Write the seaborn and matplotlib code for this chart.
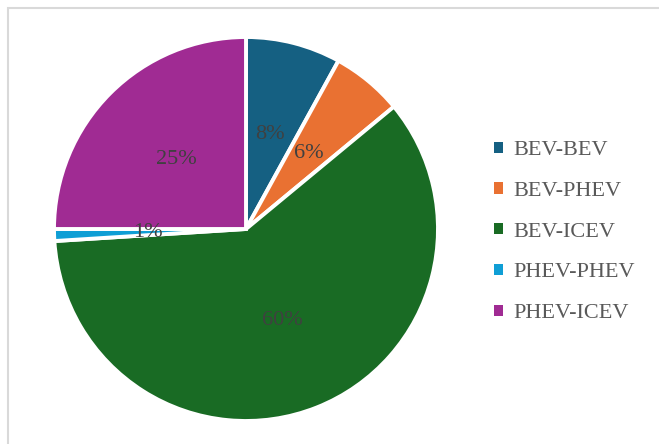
import matplotlib
matplotlib.use("Agg")
import matplotlib.pyplot as plt
from matplotlib.patches import Rectangle
import seaborn as sns

categories = ["BEV-BEV", "BEV-PHEV", "BEV-ICEV", "PHEV-PHEV", "PHEV-ICEV"]
shares = [8, 6, 60, 1, 25]
colors = ["#156082", "#E97132", "#196B24", "#0F9ED5", "#A02B93"]

sns.set_theme(style="white")
plt.rcParams["font.family"] = ["Liberation Serif", "DejaVu Serif"]

W, H = 659, 444
fig = plt.figure(figsize=(W / 100, H / 100), dpi=100)

# chart-area frame (runs past the right and bottom edges)
fig.patches.append(Rectangle((8 / W, -10 / H), (W + 20) / W, (H - 8 + 10) / H,
                             transform=fig.transFigure, fill=False,
                             edgecolor="#d9d9d9", linewidth=1.5))

cx, cy, r = 246, 229, 192
ax = fig.add_axes([(cx - r) / W, (H - cy - r) / H, 2 * r / W, 2 * r / H])
palette = sns.color_palette(colors)
wedges, _, autotexts = ax.pie(
    shares, colors=palette, startangle=90, counterclock=False,
    autopct=lambda p: f"{p:.0f}%", pctdistance=0.51,
    wedgeprops=dict(edgecolor="white", linewidth=2.8),
    textprops=dict(color="#404040", fontsize=16),
)
ax.set_xlim(-1, 1)
ax.set_ylim(-1, 1)
ax.set_aspect("equal")
ax.axis("off")

leg = fig.legend(wedges, categories, loc="upper left",
                 bbox_to_anchor=(483 / W, 1 - 130 / H),
                 frameon=False, fontsize=16, labelcolor="#595959",
                 handlelength=0.4, handleheight=0.4, handletextpad=0.45,
                 labelspacing=0.98, borderpad=0)
for h in leg.legend_handles:
    h.set_linewidth(0)

fig.savefig("out.png", dpi=100)
